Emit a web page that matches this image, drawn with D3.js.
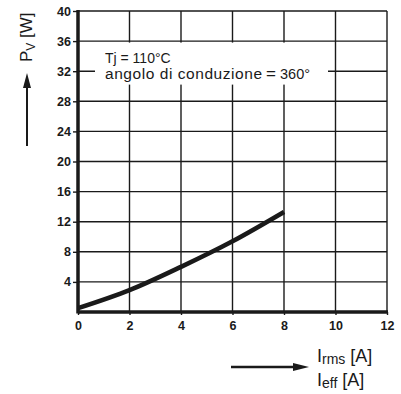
<!DOCTYPE html>
<html>
<head>
<meta charset="utf-8">
<script src="https://cdn.jsdelivr.net/npm/d3@7"></script>
<style>
  body { margin: 0; background: #fff; }
  svg text { font-family: "Liberation Sans", Arial, sans-serif; fill: #1a1a1a; }
</style>
</head>
<body>
<div id="chart"></div>
<script>
// data
const currentA = [0, 2, 4, 6, 8]
const powerW = [0.5, 2.9, 6.0, 9.4, 13.3]
const xTicks = [0, 2, 4, 6, 8, 10, 12]
const yTicks = [4, 8, 12, 16, 20, 24, 28, 32, 36, 40]

const width = 401
const height = 394
const plotLeft = 78, plotRight = 387, plotTop = 11, plotBottom = 312

const svg = d3.select("#chart").append("svg")
  .attr("width", width)
  .attr("height", height)

const x = d3.scaleLinear().domain([0, 12]).range([plotLeft, plotRight])
const y = d3.scaleLinear().domain([0, 40]).range([plotBottom, plotTop])

const ink = "#1a1a1a"

// grid
svg.append("g")
  .selectAll("line")
  .data(xTicks.slice(1))
  .enter()
  .append("line")
  .attr("x1", d => x(d)).attr("x2", d => x(d))
  .attr("y1", plotTop).attr("y2", plotBottom)
  .attr("stroke", ink).attr("stroke-width", 1.4)

svg.append("g")
  .selectAll("line")
  .data(yTicks)
  .enter()
  .append("line")
  .attr("x1", plotLeft).attr("x2", plotRight)
  .attr("y1", d => y(d)).attr("y2", d => y(d))
  .attr("stroke", ink).attr("stroke-width", 1.4)

// white box behind the note
svg.append("rect")
  .attr("x", 95).attr("y", y(36) + 1.5)
  .attr("width", 233).attr("height", 42)
  .attr("fill", "#fff")

const note = svg.append("text")
note.append("tspan").attr("x", 105).attr("y", 63).attr("font-size", 14).text("Tj = 110°C")
note.append("tspan").attr("x", 105).attr("y", 79).attr("font-size", 15.5).attr("textLength", 157).text("angolo di conduzione")
note.append("tspan").attr("x", 266).attr("y", 79).attr("font-size", 17).text("=")
note.append("tspan").attr("x", 280).attr("y", 79).attr("font-size", 14.5).text("360°")

// y axis
const yAxis = d3.axisLeft(y).tickValues(yTicks).tickSize(5).tickPadding(2)
const gy = svg.append("g").attr("transform", `translate(${plotLeft},0)`).call(yAxis)
gy.select(".domain").remove()
gy.selectAll("line").attr("stroke", ink).attr("stroke-width", 1.4)
gy.selectAll("text").attr("font-size", 12.5).attr("font-weight", "bold").attr("fill", ink)

// x axis
const xAxis = d3.axisBottom(x).tickValues(xTicks).tickSize(3).tickPadding(6)
const gx = svg.append("g").attr("transform", `translate(0,${plotBottom})`).call(xAxis)
gx.select(".domain").remove()
gx.selectAll("line").attr("stroke", ink).attr("stroke-width", 1.4)
gx.selectAll("text").attr("font-size", 12.5).attr("font-weight", "bold").attr("fill", ink)

// heavy axis lines
svg.append("line")
  .attr("x1", plotLeft).attr("x2", plotLeft).attr("y1", plotTop - 1).attr("y2", plotBottom + 1.5)
  .attr("stroke", ink).attr("stroke-width", 3.5)
svg.append("line")
  .attr("x1", plotLeft).attr("x2", plotRight + 1).attr("y1", plotBottom).attr("y2", plotBottom)
  .attr("stroke", ink).attr("stroke-width", 3.5)

// curve
const line = d3.line()
  .x((d, i) => x(currentA[i]))
  .y(d => y(d))
  .curve(d3.curveMonotoneX)

svg.append("path")
  .datum(powerW)
  .attr("d", line)
  .attr("fill", "none")
  .attr("stroke", ink)
  .attr("stroke-width", 4.5)

// y label with arrow
svg.append("text")
  .attr("transform", "translate(32,62) rotate(-90)")
  .attr("font-size", 17)
  .html('P<tspan font-size="12" dy="3">V</tspan><tspan dy="-3"> [W]</tspan>')

svg.append("line")
  .attr("x1", 27).attr("x2", 27).attr("y1", 146).attr("y2", 84)
  .attr("stroke", ink).attr("stroke-width", 2)
svg.append("path")
  .attr("d", "M27,73 L23,88 L31,88 Z")
  .attr("fill", ink)

// x label with arrow
svg.append("text")
  .attr("x", 317).attr("y", 362).attr("font-size", 18)
  .html('I<tspan font-size="14" dy="2">rms</tspan><tspan dy="-2"> [A]</tspan>')
svg.append("text")
  .attr("x", 317).attr("y", 386).attr("font-size", 18)
  .html('I<tspan font-size="14" dy="2">eff</tspan><tspan dy="-2"> [A]</tspan>')

svg.append("line")
  .attr("x1", 231).attr("x2", 297).attr("y1", 367).attr("y2", 367)
  .attr("stroke", ink).attr("stroke-width", 2.5)
svg.append("path")
  .attr("d", "M309,367 L293,363 L293,371 Z")
  .attr("fill", ink)
</script>
</body>
</html>
